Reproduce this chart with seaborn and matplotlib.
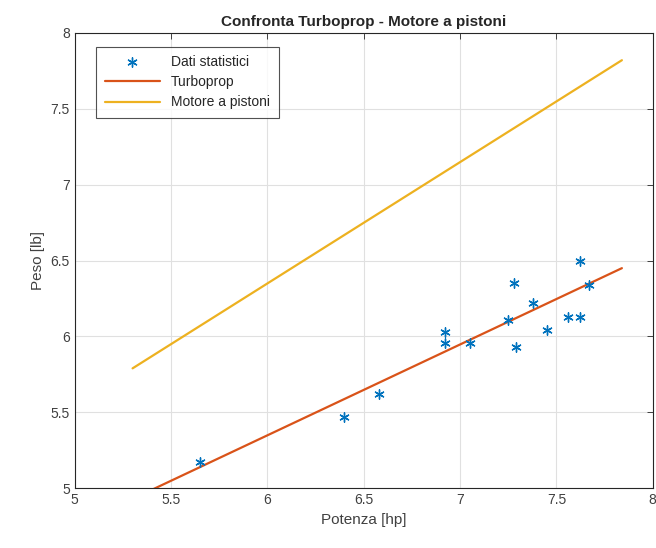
import matplotlib
matplotlib.use("Agg")
import matplotlib.pyplot as plt
import seaborn as sns

# Data
potenza = [5.65, 6.40, 6.58, 6.92, 6.92, 7.05, 7.25, 7.28, 7.29, 7.38, 7.45, 7.56, 7.62, 7.62, 7.67]
peso = [5.17, 5.47, 5.62, 6.03, 5.96, 5.96, 6.11, 6.35, 5.93, 6.22, 6.04, 6.13, 6.50, 6.13, 6.34]

line_x = [5.30, 7.84]
turbo_y = [4.93, 6.45]
pistoni_y = [5.79, 7.82]

x_ticks = [5, 5.5, 6, 6.5, 7, 7.5, 8]
y_ticks = [5, 5.5, 6, 6.5, 7, 7.5, 8]

sns.set_style("white")
plt.rcParams['font.family'] = ['Liberation Sans', 'DejaVu Sans']

fig = plt.figure(figsize=(6.56, 5.48), dpi=100)
ax = fig.add_axes([0.114, 0.109, 0.881, 0.831])

blue = "#0072BD"
orange = "#D95319"
yellow = "#EDB120"

sns.scatterplot(x=potenza, y=peso, ax=ax, marker=(6, 2, 0), s=45,
                color=blue, edgecolor=blue, linewidth=1.0, label="Dati statistici", zorder=3)
sns.lineplot(x=line_x, y=turbo_y, ax=ax, color=orange, linewidth=1.6, label="Turboprop", zorder=2)
sns.lineplot(x=line_x, y=pistoni_y, ax=ax, color=yellow, linewidth=1.6, label="Motore a pistoni", zorder=2)

ax.set_xlim(5, 8)
ax.set_ylim(5, 8)
ax.set_xticks(x_ticks)
ax.set_yticks(y_ticks)
ax.set_xticklabels([f"{v:g}" for v in x_ticks])
ax.set_yticklabels([f"{v:g}" for v in y_ticks])
ax.grid(True, color="#E0E0E0", linewidth=0.8)
ax.set_axisbelow(True)
for s in ax.spines.values():
    s.set_color("#262626")
    s.set_linewidth(0.8)
ax.tick_params(direction="in", length=4, width=0.6, colors="#262626", labelsize=10,
               top=True, right=True, labelcolor="#404040")

ax.set_xlabel("Potenza [hp]", fontsize=11, color="#404040")
ax.set_ylabel("Peso [lb]", fontsize=11, color="#404040")
ax.set_title("Confronta Turboprop - Motore a pistoni", fontsize=11, fontweight="bold", pad=5)

leg = ax.legend(loc="upper left", bbox_to_anchor=(0.025, 0.985), fontsize=10, frameon=True,
                fancybox=False, edgecolor="#262626", handlelength=4, borderpad=0.6,
                labelspacing=0.45)
leg.get_frame().set_linewidth(0.8)

fig.savefig("out.png", dpi=100)
